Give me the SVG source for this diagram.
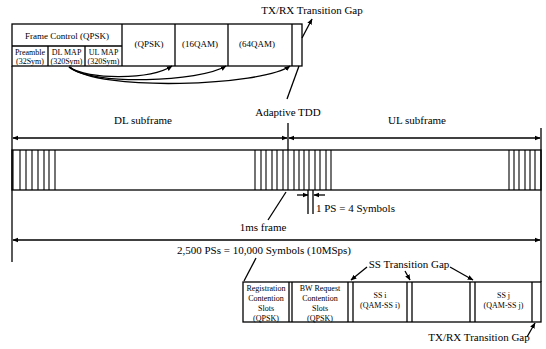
<svg xmlns="http://www.w3.org/2000/svg" width="546" height="349" viewBox="0 0 546 349">
<style>
text{font-family:"Liberation Serif","Times New Roman",serif;fill:#000}
.t11{font-size:11px}
.t9{font-size:9px}
.t8{font-size:8px}
.box{fill:none;stroke:#000;stroke-width:1.3}
.ln{fill:none;stroke:#000;stroke-width:1.3}
.h{stroke:#000;stroke-width:1.1}
</style>
<defs>
<marker id="ah" viewBox="0 0 10 10" refX="9" refY="5" markerWidth="6" markerHeight="6" orient="auto-start-reverse" markerUnits="userSpaceOnUse">
<path d="M0,1 L10,5 L0,9 Z" fill="#000"/>
</marker>
</defs>
<rect width="546" height="349" fill="#fff"/>

<g id="top-frame">
<rect class="box" x="12" y="24" width="290" height="42"/>
<line class="ln" x1="12" y1="46" x2="122" y2="46"/>
<line class="ln" x1="122" y1="24" x2="122" y2="66"/>
<line class="ln" x1="48" y1="46" x2="48" y2="66"/>
<line class="ln" x1="85" y1="46" x2="85" y2="66"/>
<line class="ln" x1="175" y1="24" x2="175" y2="66"/>
<line class="ln" x1="228" y1="24" x2="228" y2="66"/>
<line class="ln" x1="292" y1="24" x2="292" y2="66"/>
<text class="t9" x="67" y="39" text-anchor="middle">Frame Control (QPSK)</text>
<text class="t8" x="30" y="55" text-anchor="middle">Preamble</text>
<text class="t8" x="30" y="64" text-anchor="middle">(32Sym)</text>
<text class="t8" x="66.5" y="55" text-anchor="middle">DL MAP</text>
<text class="t8" x="66.5" y="64" text-anchor="middle">(320Sym)</text>
<text class="t8" x="103.5" y="55" text-anchor="middle">UL MAP</text>
<text class="t8" x="103.5" y="64" text-anchor="middle">(320Sym)</text>
<text class="t9" x="149" y="47" text-anchor="middle">(QPSK)</text>
<text class="t9" x="200" y="47" text-anchor="middle">(16QAM)</text>
<text class="t9" x="257" y="47" text-anchor="middle">(64QAM)</text>
</g>

<g id="band">
<rect class="box" x="12" y="150" width="529" height="40"/>
<g class="h">
<line x1="13" y1="150" x2="13" y2="190"/><line x1="20" y1="150" x2="20" y2="190"/><line x1="26" y1="150" x2="26" y2="190"/><line x1="32" y1="150" x2="32" y2="190"/><line x1="38" y1="150" x2="38" y2="190"/><line x1="44" y1="150" x2="44" y2="190"/><line x1="49" y1="150" x2="49" y2="190"/><line x1="55" y1="150" x2="55" y2="190"/>
<line x1="255" y1="150" x2="255" y2="190"/><line x1="261" y1="150" x2="261" y2="190"/><line x1="266" y1="150" x2="266" y2="190"/><line x1="272" y1="150" x2="272" y2="190"/><line x1="277" y1="150" x2="277" y2="190"/><line x1="283" y1="150" x2="283" y2="190"/><line x1="288" y1="150" x2="288" y2="190"/><line x1="294" y1="150" x2="294" y2="190"/><line x1="299" y1="150" x2="299" y2="190"/><line x1="304" y1="150" x2="304" y2="190"/><line x1="309" y1="150" x2="309" y2="190"/><line x1="315" y1="150" x2="315" y2="190"/><line x1="320" y1="150" x2="320" y2="190"/><line x1="326" y1="150" x2="326" y2="190"/><line x1="331" y1="150" x2="331" y2="190"/>
<line x1="509" y1="150" x2="509" y2="190"/><line x1="514" y1="150" x2="514" y2="190"/><line x1="519" y1="150" x2="519" y2="190"/><line x1="525" y1="150" x2="525" y2="190"/><line x1="530" y1="150" x2="530" y2="190"/><line x1="535" y1="150" x2="535" y2="190"/>
</g>
</g>

<g id="bottom-row">
<rect class="box" x="243" y="282" width="298" height="40"/>
<line class="ln" x1="289" y1="282" x2="289" y2="322"/>
<line class="ln" x1="292" y1="282" x2="292" y2="322"/>
<line class="ln" x1="348" y1="282" x2="348" y2="322"/>
<line class="ln" x1="353" y1="282" x2="353" y2="322"/>
<line class="ln" x1="407" y1="282" x2="407" y2="322"/>
<line class="ln" x1="412" y1="282" x2="412" y2="322"/>
<line class="ln" x1="470" y1="282" x2="470" y2="322"/>
<line class="ln" x1="475" y1="282" x2="475" y2="322"/>
<line class="ln" x1="532" y1="282" x2="532" y2="322"/>
<text class="t8" x="266" y="291" text-anchor="middle">Registration</text>
<text class="t8" x="266" y="301" text-anchor="middle">Contention</text>
<text class="t8" x="266" y="311" text-anchor="middle">Slots</text>
<text class="t8" x="266" y="321" text-anchor="middle">(QPSK)</text>
<text class="t8" x="320" y="291" text-anchor="middle">BW Request</text>
<text class="t8" x="320" y="301" text-anchor="middle">Contention</text>
<text class="t8" x="320" y="311" text-anchor="middle">Slots</text>
<text class="t8" x="320" y="321" text-anchor="middle">(QPSK)</text>
<text class="t8" x="380" y="298" text-anchor="middle">SS i</text>
<text class="t8" x="380" y="308" text-anchor="middle">(QAM-SS i)</text>
<text class="t8" x="503.5" y="298" text-anchor="middle">SS j</text>
<text class="t8" x="503.5" y="308" text-anchor="middle">(QAM-SS j)</text>
</g>

<g id="labels">
<text class="t11" x="312" y="14" text-anchor="middle">TX/RX Transition Gap</text>
<text class="t11" x="288" y="116" text-anchor="middle">Adaptive TDD</text>
<text class="t11" x="143" y="124" text-anchor="middle">DL subframe</text>
<text class="t11" x="417" y="124" text-anchor="middle">UL subframe</text>
<text class="t11" x="316" y="212">1 PS = 4 Symbols</text>
<text class="t11" x="263" y="231" text-anchor="middle">1ms frame</text>
<text class="t11" x="264" y="254" text-anchor="middle">2,500 PSs = 10,000 Symbols (10MSps)</text>
<text class="t11" x="409" y="268" text-anchor="middle">SS Transition Gap</text>
<text class="t11" x="479" y="341" text-anchor="middle">TX/RX Transition Gap</text>
</g>

<g id="connectors">
<line class="ln" x1="12" y1="66" x2="12" y2="262"/>
<line class="ln" x1="541" y1="128" x2="541" y2="282"/>
<line class="ln" x1="288" y1="123" x2="288" y2="150"/>
<line class="ln" x1="13" y1="138" x2="287" y2="138" marker-start="url(#ah)" marker-end="url(#ah)"/>
<line class="ln" x1="289" y1="138" x2="540" y2="138" marker-start="url(#ah)" marker-end="url(#ah)"/>
<line class="ln" x1="13" y1="240" x2="540" y2="240" marker-start="url(#ah)" marker-end="url(#ah)"/>
<path class="ln" d="M69,67 C88,80 150,80 172,66" marker-end="url(#ah)"/>
<path class="ln" d="M69,67 C92,86 200,82 226,66" marker-end="url(#ah)"/>
<path class="ln" d="M70,67 C98,92 262,86 290,66" marker-end="url(#ah)"/>
<line class="ln" x1="302" y1="38" x2="312" y2="19" marker-end="url(#ah)"/>
<line class="ln" x1="299" y1="66" x2="287" y2="99"/>
<line class="ln" x1="286" y1="192" x2="268" y2="220"/>
<line class="ln" x1="297" y1="195" x2="308" y2="195" marker-end="url(#ah)"/>
<line class="ln" x1="325" y1="195" x2="314" y2="195" marker-end="url(#ah)"/>
<line class="ln" x1="308" y1="190" x2="308" y2="214"/>
<line class="ln" x1="313" y1="190" x2="313" y2="214"/>
<line class="ln" x1="244" y1="281" x2="256" y2="258"/>
<line class="ln" x1="367" y1="267" x2="351" y2="280" marker-end="url(#ah)"/>
<line class="ln" x1="405" y1="271" x2="410" y2="280" marker-end="url(#ah)"/>
<line class="ln" x1="450" y1="267" x2="473" y2="280" marker-end="url(#ah)"/>
<line class="ln" x1="527" y1="337" x2="535" y2="323" marker-end="url(#ah)"/>
</g>
</svg>
